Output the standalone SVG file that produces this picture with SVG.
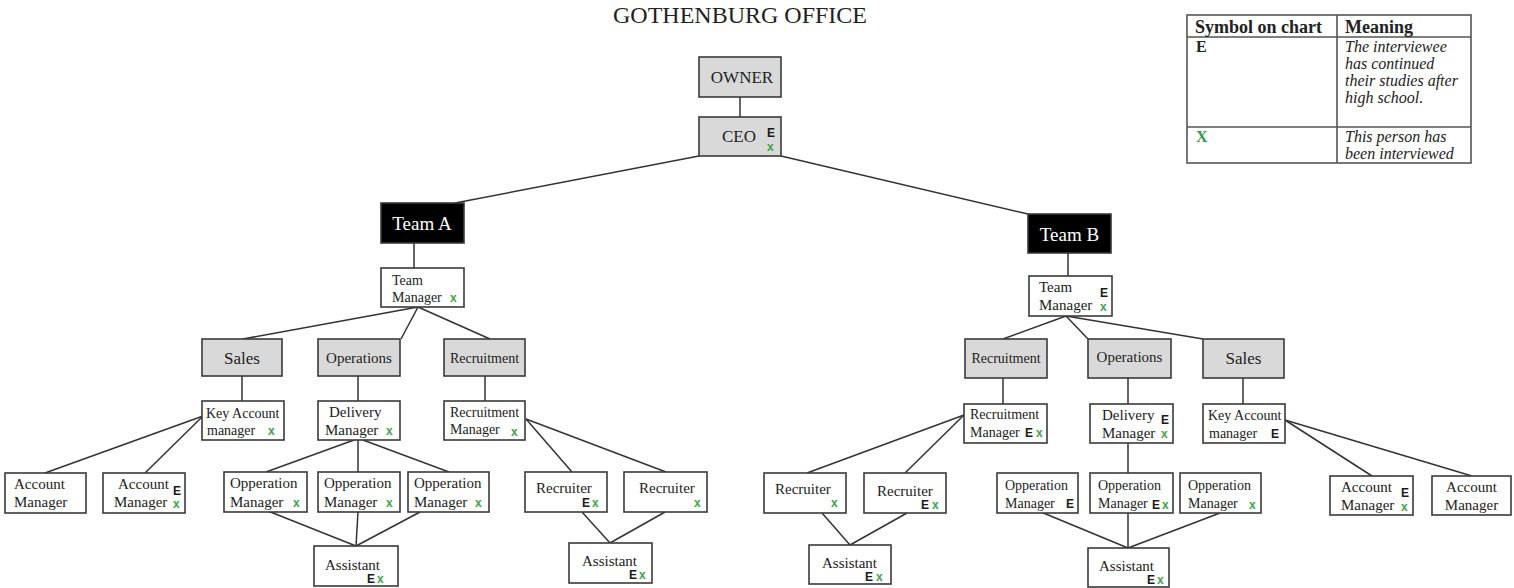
<svg xmlns="http://www.w3.org/2000/svg" width="1514" height="588" viewBox="0 0 1514 588">
<style>
text{font-family:"Liberation Serif","Times New Roman",serif;fill:#222}
.box{fill:#fff;stroke:#3a3a3a;stroke-width:1.6}
.g{fill:#d9d9d9;stroke:#3a3a3a;stroke-width:1.6}
.k{fill:#000;stroke:#3a3a3a;stroke-width:1.6}
.t{font-size:15px}
.s{font-size:14px}
.c{text-anchor:middle}
.w{fill:#fff;font-size:19px}
.e{font-family:"Liberation Sans",Arial,sans-serif;font-weight:bold;font-size:12px;fill:#1a1a1a}
.x{font-family:"Liberation Sans",Arial,sans-serif;font-weight:bold;font-size:12px;fill:#3aa846}
#conn line{stroke:#333;stroke-width:1.5}
.lg{fill:none;stroke:#555;stroke-width:1.6}
.lh{font-size:18px;font-weight:bold}
.li{font-size:16px;font-style:italic}
</style>

<text x="740" y="23" class="c" style="font-size:24px">GOTHENBURG OFFICE</text>

<g id="legend">
<rect x="1187" y="15" width="284" height="148" class="lg"/>
<line x1="1337" y1="15" x2="1337" y2="163" class="lg"/>
<line x1="1187" y1="37" x2="1471" y2="37" class="lg"/>
<line x1="1187" y1="127" x2="1471" y2="127" class="lg"/>
<text x="1195" y="33" class="lh">Symbol on chart</text>
<text x="1345" y="33" class="lh">Meaning</text>
<text x="1196" y="52" style="font-size:16px;font-weight:bold">E</text>
<text x="1345" y="52" class="li">The interviewee</text>
<text x="1345" y="69" class="li">has continued</text>
<text x="1345" y="86" class="li">their studies after</text>
<text x="1345" y="103" class="li">high school.</text>
<text x="1196" y="142" style="font-size:16px;font-weight:bold;fill:#2e9a45">X</text>
<text x="1345" y="142" class="li">This person has</text>
<text x="1345" y="159" class="li">been interviewed</text>
</g>

<g id="conn">
<line x1="740" y1="97" x2="740" y2="117"/>
<line x1="699" y1="156" x2="455" y2="203"/>
<line x1="781" y1="156" x2="1028" y2="214"/>
<line x1="414" y1="243" x2="414" y2="268"/>
<line x1="418" y1="307" x2="243" y2="339"/>
<line x1="418" y1="307" x2="401" y2="339"/>
<line x1="418" y1="307" x2="490" y2="339"/>
<line x1="242" y1="376" x2="242" y2="401"/>
<line x1="358" y1="376" x2="358" y2="401"/>
<line x1="485" y1="376" x2="485" y2="401"/>
<line x1="203" y1="416" x2="45" y2="473"/>
<line x1="203" y1="416" x2="145" y2="473"/>
<line x1="354" y1="440" x2="266" y2="472"/>
<line x1="358" y1="440" x2="358" y2="472"/>
<line x1="363" y1="440" x2="449" y2="472"/>
<line x1="268" y1="511" x2="356" y2="546"/>
<line x1="358" y1="512" x2="356" y2="546"/>
<line x1="420" y1="512" x2="356" y2="546"/>
<line x1="526" y1="419" x2="572" y2="472"/>
<line x1="526" y1="419" x2="666" y2="472"/>
<line x1="582" y1="512" x2="610" y2="543"/>
<line x1="665" y1="512" x2="610" y2="543"/>
<line x1="1068" y1="253" x2="1068" y2="276"/>
<line x1="1066" y1="316" x2="1003" y2="339"/>
<line x1="1066" y1="316" x2="1088" y2="339"/>
<line x1="1066" y1="316" x2="1203" y2="339"/>
<line x1="1003" y1="378" x2="1003" y2="404"/>
<line x1="1128" y1="378" x2="1128" y2="404"/>
<line x1="1243" y1="378" x2="1243" y2="404"/>
<line x1="1128" y1="443" x2="1128" y2="473"/>
<line x1="1041" y1="512" x2="1128" y2="548"/>
<line x1="1128" y1="513" x2="1128" y2="548"/>
<line x1="1220" y1="513" x2="1128" y2="548"/>
<line x1="964" y1="415" x2="807" y2="473"/>
<line x1="964" y1="415" x2="905" y2="473"/>
<line x1="822" y1="513" x2="850" y2="545"/>
<line x1="907" y1="513" x2="850" y2="545"/>
<line x1="1285" y1="420" x2="1372" y2="476"/>
<line x1="1285" y1="420" x2="1472" y2="476"/>
</g>

<g id="owner"><rect x="699" y="57" width="82" height="40" class="g"/><text x="742" y="83" class="c" style="font-size:17px">OWNER</text></g>
<g id="ceo"><rect x="699" y="117" width="82" height="39" class="g"/><text x="722" y="142" style="font-size:17px">CEO</text><text x="767" y="137" class="e">E</text><text x="767" y="151" class="x">x</text></g>

<g id="teamA"><rect x="381" y="203" width="83" height="40" class="k"/><text x="422" y="230" class="c w">Team A</text></g>
<g id="tmA"><rect x="381" y="268" width="83" height="39" class="box"/><text x="392" y="285" class="s">Team</text><text x="392" y="302" class="s">Manager</text><text x="450" y="302" class="x">x</text></g>

<g id="salesA"><rect x="202" y="339" width="80" height="37" class="g"/><text x="242" y="364" class="c" style="font-size:17px">Sales</text></g>
<g id="opsA"><rect x="318" y="339" width="82" height="37" class="g"/><text x="359" y="363" class="c t">Operations</text></g>
<g id="recA"><rect x="444" y="339" width="81" height="37" class="g"/><text x="484.5" y="363" class="c s">Recruitment</text></g>

<g id="kamA"><rect x="202" y="401" width="82" height="39" class="box"/><text x="206" y="418" class="s">Key Account</text><text x="207" y="435" class="s">manager</text><text x="268" y="435" class="x">x</text></g>
<g id="dmA"><rect x="318" y="401" width="82" height="39" class="box"/><text x="329" y="417" class="t">Delivery</text><text x="325" y="435" class="t">Manager</text><text x="386" y="435" class="x">x</text></g>
<g id="rmA"><rect x="444" y="401" width="81" height="39" class="box"/><text x="450" y="417" class="s">Recruitment</text><text x="450" y="434" class="s">Manager</text><text x="511" y="436" class="x">x</text></g>

<g id="amA1"><rect x="5" y="473" width="81" height="40" class="box"/><text x="14" y="489" class="t">Account</text><text x="14" y="507" class="t">Manager</text></g>
<g id="amA2"><rect x="103" y="473" width="82" height="40" class="box"/><text x="118" y="489" class="t">Account</text><text x="114" y="507" class="t">Manager</text><text x="173" y="495" class="e">E</text><text x="173" y="508" class="x">x</text></g>

<g id="omA1"><rect x="224" y="472" width="83" height="40" class="box"/><text x="230" y="488" class="t">Opperation</text><text x="230" y="507" class="t">Manager</text><text x="293" y="507" class="x">x</text></g>
<g id="omA2"><rect x="318" y="472" width="82" height="40" class="box"/><text x="324" y="488" class="t">Opperation</text><text x="324" y="507" class="t">Manager</text><text x="386" y="507" class="x">x</text></g>
<g id="omA3"><rect x="408" y="472" width="81" height="40" class="box"/><text x="414" y="488" class="t">Opperation</text><text x="414" y="507" class="t">Manager</text><text x="475" y="507" class="x">x</text></g>
<g id="asA1"><rect x="314" y="546" width="84" height="40" class="box"/><text x="325" y="570" class="t">Assistant</text><text x="367" y="583" class="e">E</text><text x="377" y="583" class="x">x</text></g>

<g id="reA1"><rect x="525" y="472" width="82" height="40" class="box"/><text x="536" y="493" class="t">Recruiter</text><text x="582" y="507" class="e">E</text><text x="592" y="507" class="x">x</text></g>
<g id="reA2"><rect x="624" y="472" width="83" height="40" class="box"/><text x="639" y="493" class="t">Recruiter</text><text x="694" y="507" class="x">x</text></g>
<g id="asA2"><rect x="569" y="543" width="83" height="40" class="box"/><text x="582" y="566" class="t">Assistant</text><text x="629" y="579" class="e">E</text><text x="639" y="579" class="x">x</text></g>

<g id="teamB"><rect x="1028" y="214" width="83" height="39" class="k"/><text x="1069.5" y="241" class="c w">Team B</text></g>
<g id="tmB"><rect x="1029" y="276" width="83" height="40" class="box"/><text x="1039" y="292" class="t">Team</text><text x="1039" y="310" class="t">Manager</text><text x="1100" y="297" class="e">E</text><text x="1100" y="311" class="x">x</text></g>

<g id="recB"><rect x="965" y="339" width="82" height="39" class="g"/><text x="1006" y="363" class="c s">Recruitment</text></g>
<g id="opsB"><rect x="1088" y="339" width="83" height="39" class="g"/><text x="1129.5" y="362" class="c t">Operations</text></g>
<g id="salesB"><rect x="1203" y="339" width="81" height="39" class="g"/><text x="1243.5" y="364" class="c" style="font-size:17px">Sales</text></g>

<g id="rmB"><rect x="964" y="404" width="83" height="39" class="box"/><text x="970" y="419" class="s">Recruitment</text><text x="970" y="437" class="s">Manager</text><text x="1025" y="437" class="e">E</text><text x="1036" y="437" class="x">x</text></g>
<g id="dmB"><rect x="1090" y="404" width="83" height="39" class="box"/><text x="1102" y="420" class="t">Delivery</text><text x="1102" y="438" class="t">Manager</text><text x="1161" y="424" class="e">E</text><text x="1161" y="438" class="x">x</text></g>
<g id="kamB"><rect x="1203" y="404" width="82" height="39" class="box"/><text x="1208" y="420" class="s">Key Account</text><text x="1209" y="438" class="s">manager</text><text x="1271" y="438" class="e">E</text></g>

<g id="omB1"><rect x="997" y="473" width="81" height="40" class="box"/><text x="1005" y="490" class="s">Opperation</text><text x="1005" y="508" class="s">Manager</text><text x="1066" y="508" class="e">E</text></g>
<g id="omB2"><rect x="1090" y="473" width="83" height="40" class="box"/><text x="1098" y="490" class="s">Opperation</text><text x="1098" y="508" class="s">Manager</text><text x="1152" y="509" class="e">E</text><text x="1162" y="509" class="x">x</text></g>
<g id="omB3"><rect x="1180" y="473" width="81" height="40" class="box"/><text x="1188" y="490" class="s">Opperation</text><text x="1188" y="508" class="s">Manager</text><text x="1249" y="509" class="x">x</text></g>
<g id="asB2"><rect x="1088" y="548" width="81" height="39" class="box"/><text x="1099" y="571" class="t">Assistant</text><text x="1147" y="584" class="e">E</text><text x="1157" y="584" class="x">x</text></g>

<g id="reB1"><rect x="764" y="473" width="82" height="40" class="box"/><text x="775" y="494" class="t">Recruiter</text><text x="831" y="507" class="x">x</text></g>
<g id="reB2"><rect x="864" y="473" width="82" height="40" class="box"/><text x="877" y="496" class="t">Recruiter</text><text x="921" y="509" class="e">E</text><text x="932" y="509" class="x">x</text></g>
<g id="asB1"><rect x="809" y="545" width="82" height="39" class="box"/><text x="822" y="568" class="t">Assistant</text><text x="865" y="581" class="e">E</text><text x="876" y="581" class="x">x</text></g>

<g id="amB1"><rect x="1330" y="476" width="83" height="39" class="box"/><text x="1341" y="492" class="t">Account</text><text x="1341" y="510" class="t">Manager</text><text x="1401" y="497" class="e">E</text><text x="1401" y="511" class="x">x</text></g>
<g id="amB2"><rect x="1432" y="476" width="79" height="39" class="box"/><text x="1471.5" y="492" class="c t">Account</text><text x="1471.5" y="510" class="c t">Manager</text></g>
</svg>
